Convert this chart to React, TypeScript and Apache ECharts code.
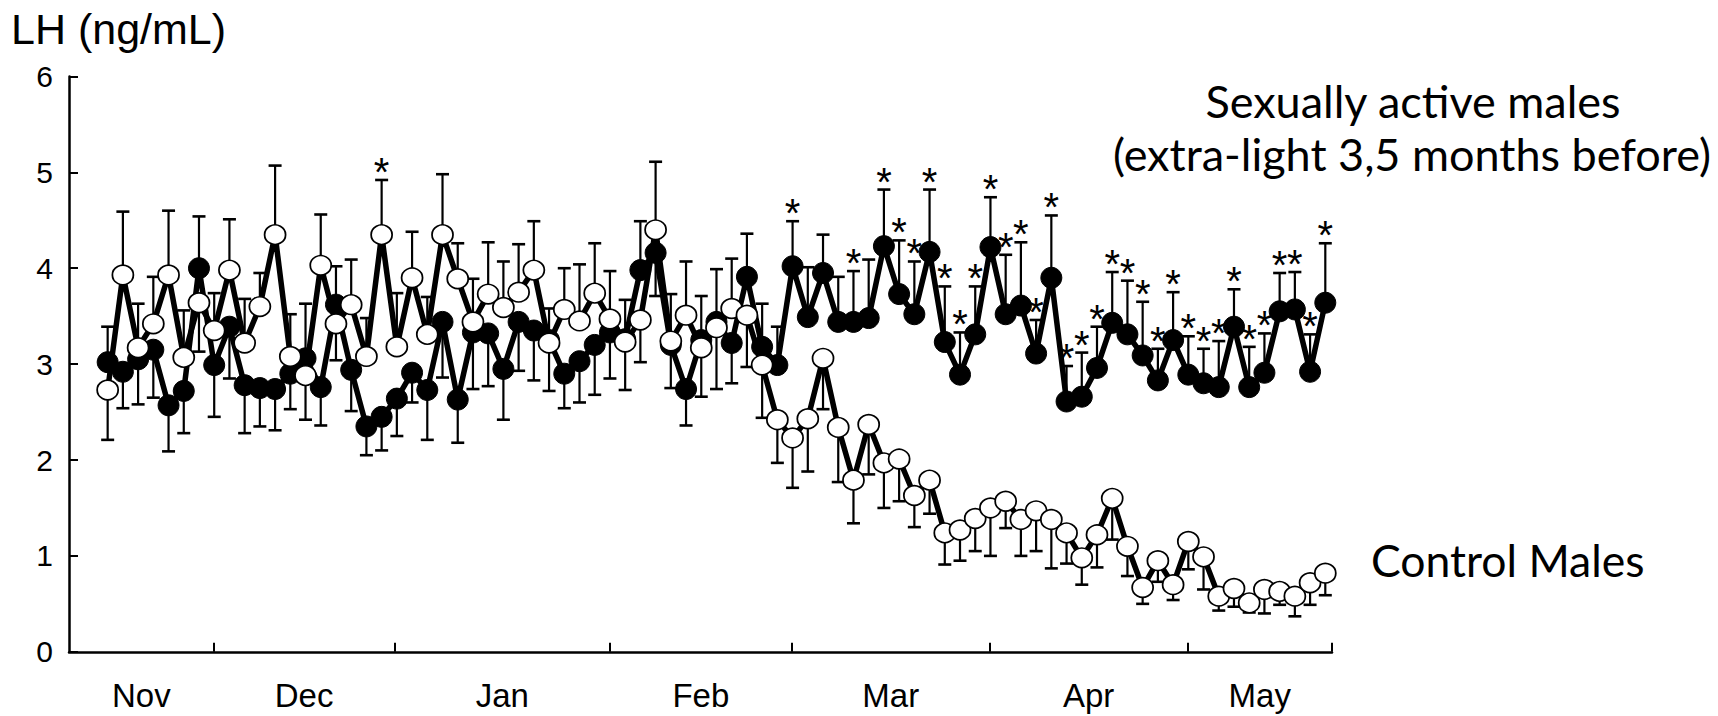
import React, { useEffect, useRef } from "react";
import * as echarts from "echarts";

// Sampling index (twice-weekly blood samples), 81 samples from early Nov to end of May
const months = ["Nov", "Dec", "Jan", "Feb", "Mar", "Apr", "May"];
// month boundaries, expressed in sample-index units
const monthBounds = [6.96, 18.85, 33.0, 44.95, 57.95, 70.95];
const axisStart = -2.54;
const axisEnd = 80.44;
const yTicks = [0, 1, 2, 3, 4, 5, 6];

// Sexually active males (filled circles)
const activeLH = [
  3.02, 2.92, 3.05, 3.15, 2.57, 2.72, 4.0, 2.99, 3.39, 2.78,
  2.75, 2.74, 2.9, 3.06, 2.76, 3.62, 2.94, 2.35, 2.45, 2.64,
  2.91, 2.73, 3.44, 2.63, 3.33, 3.32, 2.95, 3.44, 3.35, 3.25,
  2.9, 3.03, 3.2, 3.33, 3.26, 3.98, 4.16, 3.2, 2.74, 3.25,
  3.44, 3.22, 3.91, 3.18, 2.99, 4.02, 3.49, 3.95, 3.44, 3.44,
  3.48, 4.23, 3.73, 3.52, 4.17, 3.23, 2.89, 3.31, 4.22, 3.52,
  3.61, 3.11, 3.9, 2.61, 2.66, 2.96, 3.43, 3.31, 3.09, 2.83,
  3.25, 2.89, 2.8, 2.76, 3.39, 2.76, 2.91, 3.55, 3.57, 2.92,
  3.64,
];
const activeSEM = [
  0.37, 0.38, 0.47, 0.5, 0.48, 0.44, 0.54, 0.54, 0.54, 0.5,
  0.4, 0.43, 0.37, 0.57, 0.4, 0.4, 0.43, 0.3, 0.35, 0.39,
  0.31, 0.52, 0.58, 0.45, 0.59, 0.55, 0.53, 0.51, 0.52, 0.33,
  0.36, 0.43, 0.52, 0.48, 0.41, 0.51, 0.45, 0.45, 0.38, 0.46,
  0.55, 0.42, 0.45, 0.45, 0.4, 0.47, 0.52, 0.4, 0.47, 0.53,
  0.61, 0.59, 0.56, 0.55, 0.65, 0.58, 0.44, 0.5, 0.52, 0.62,
  0.66, 0.35, 0.65, 0.37, 0.46, 0.43, 0.53, 0.56, 0.56, 0.33,
  0.5, 0.4, 0.36, 0.48, 0.39, 0.42, 0.41, 0.4, 0.39, 0.39,
  0.62,
];
// Control males (open circles)
const controlLH = [
  2.73, 3.93, 3.17, 3.42, 3.93, 3.07, 3.64, 3.35, 3.98, 3.22,
  3.6, 4.35, 3.08, 2.88, 4.03, 3.42, 3.62, 3.08, 4.35, 3.18,
  3.9, 3.31, 4.35, 3.89, 3.44, 3.73, 3.59, 3.75, 3.98, 3.22,
  3.57, 3.45, 3.74, 3.47, 3.23, 3.46, 4.4, 3.24, 3.51, 3.17,
  3.38, 3.58, 3.51, 2.99, 2.42, 2.23, 2.43, 3.06, 2.34, 1.79,
  2.37, 1.97, 2.01, 1.63, 1.79, 1.24, 1.27, 1.39, 1.5, 1.57,
  1.38, 1.47, 1.38, 1.24, 0.98, 1.22, 1.6, 1.1, 0.67, 0.95,
  0.7, 1.15, 0.99, 0.58, 0.66, 0.51, 0.65, 0.63, 0.58, 0.72,
  0.82,
];
const controlSEM = [
  0.52, 0.66, 0.46, 0.49, 0.67, 0.49, 0.51, 0.39, 0.53, 0.46,
  0.35, 0.72, 0.44, 0.46, 0.53, 0.38, 0.47, 0.4, 0.57, 0.56,
  0.48, 0.39, 0.63, 0.37, 0.45, 0.54, 0.48, 0.5, 0.51, 0.5,
  0.43, 0.59, 0.52, 0.5, 0.5, 0.44, 0.71, 0.49, 0.56, 0.51,
  0.64, 0.52, 0.54, 0.55, 0.45, 0.52, 0.55, 0.53, 0.57, 0.45,
  0.52, 0.47, 0.44, 0.33, 0.35, 0.33, 0.32, 0.34, 0.5, 0.28,
  0.38, 0.42, 0.51, 0.32, 0.28, 0.34, 0.43, 0.31, 0.17, 0.22,
  0.16, 0.29, 0.34, 0.15, 0.19, 0.1, 0.25, 0.14, 0.21, 0.23,
  0.23,
];
// samples with a significant difference between groups (*)
const significant = [
  18, 45, 49, 51, 52, 53, 54, 55, 56, 57, 58, 59, 60, 61, 62, 63, 64, 65,
  66, 67, 68, 69, 70, 71, 72, 73, 74, 75, 76, 77, 78, 79, 80,
];

const FONT_AXIS = '"Liberation Sans", Arial, sans-serif';
const FONT_NOTE = 'Lato, "Open Sans", sans-serif';

export default function App() {
  const ref = useRef<HTMLDivElement>(null);

  useEffect(() => {
    if (!ref.current) return;
    const chart = echarts.init(ref.current, null, { renderer: "svg" });

    const activeData = activeLH.map((v, i) => [i, v]);
    const controlData = controlLH.map((v, i) => [i, v]);

    // error bars: the upper group of each sample gets an upward bar, the lower a downward one
    const errData: number[][] = [];
    activeLH.forEach((v, i) => {
      const up = v >= controlLH[i] ? 1 : -1;
      errData.push([i, v, activeSEM[i], up]);
      errData.push([i, controlLH[i], controlSEM[i], -up]);
    });
    const starData = significant.map((i) => {
      const top =
        activeLH[i] >= controlLH[i]
          ? activeLH[i] + activeSEM[i]
          : controlLH[i] + controlSEM[i];
      return [i, top];
    });

    const starts = [axisStart, ...monthBounds];
    const ends = [...monthBounds, axisEnd];
    const mids = starts.map((s, k) => (s + ends[k]) / 2);

    chart.setOption({
      animation: false,
      backgroundColor: "#ffffff",
      grid: {
        left: 69,
        top: 76.4,
        width: 1263,
        height: 575.4,
        containLabel: false,
        outerBoundsMode: "none",
      },
      xAxis: {
        type: "value",
        min: axisStart,
        max: axisEnd,
        splitLine: { show: false },
        axisLine: { show: true, onZero: false, lineStyle: { color: "#000", width: 2.5 } },
        axisTick: {
          show: true,
          inside: true,
          length: 9,
          customValues: [...monthBounds, axisEnd],
          lineStyle: { color: "#000", width: 2 },
        },
        axisLabel: {
          show: true,
          customValues: mids,
          margin: 27,
          color: "#000",
          fontSize: 33,
          fontFamily: FONT_AXIS,
          formatter: (val: number) => {
            let best = 0;
            let d = Infinity;
            mids.forEach((m, k) => {
              if (Math.abs(m - val) < d) {
                d = Math.abs(m - val);
                best = k;
              }
            });
            return months[best];
          },
        },
      },
      yAxis: {
        type: "value",
        min: yTicks[0],
        max: yTicks[yTicks.length - 1],
        interval: 1,
        splitLine: { show: false },
        axisLine: { show: true, onZero: false, lineStyle: { color: "#000", width: 2.5 } },
        axisTick: {
          show: true,
          inside: true,
          length: 9,
          lineStyle: { color: "#000", width: 2 },
        },
        axisLabel: {
          margin: 16,
          color: "#000",
          fontSize: 30,
          fontFamily: FONT_AXIS,
        },
      },
      series: [
        {
          type: "custom",
          z: 1,
          data: errData,
          renderItem: (params: any, api: any) => {
            const x = api.value(0);
            const v = api.value(1);
            const s = api.value(2);
            const d = api.value(3);
            const p0 = api.coord([x, v]);
            const p1 = api.coord([x, v + d * s]);
            const half = 6.5;
            return {
              type: "group",
              children: [
                {
                  type: "line",
                  shape: { x1: p0[0], y1: p0[1], x2: p1[0], y2: p1[1] },
                  style: { stroke: "#000", lineWidth: 2.2 },
                },
                {
                  type: "line",
                  shape: { x1: p1[0] - half, y1: p1[1], x2: p1[0] + half, y2: p1[1] },
                  style: { stroke: "#000", lineWidth: 2.6 },
                },
              ],
            };
          },
        },
        {
          type: "custom",
          z: 1,
          data: starData,
          renderItem: (params: any, api: any) => {
            const p = api.coord([api.value(0), api.value(1)]);
            return {
              type: "text",
              x: p[0],
              y: p[1] + 12,
              style: {
                text: "*",
                fill: "#000",
                fontSize: 40,
                fontFamily: FONT_AXIS,
                align: "center",
                verticalAlign: "bottom",
              },
            };
          },
        },
        {
          type: "line",
          name: "Sexually active males",
          z: 3,
          data: activeData,
          symbol: "circle",
          symbolSize: 21,
          showAllSymbol: true,
          lineStyle: { color: "#000", width: 5.5 },
          itemStyle: { color: "#000", borderColor: "#000", borderWidth: 1 },
        },
        {
          type: "line",
          name: "Control Males",
          z: 4,
          data: controlData,
          symbol: "circle",
          symbolSize: [21, 19.5],
          showAllSymbol: true,
          lineStyle: { color: "#000", width: 5.5 },
          itemStyle: { color: "#fff", borderColor: "#000", borderWidth: 1.7 },
        },
      ],
      graphic: [
        {
          type: "text",
          left: 11,
          top: 7,
          style: {
            text: "LH (ng/mL)",
            fill: "#000",
            fontSize: 43,
            fontFamily: FONT_AXIS,
          },
        },
        {
          type: "text",
          x: 1413,
          y: 101,
          style: {
            text: "Sexually active males",
            fill: "#000",
            fontSize: 45,
            fontFamily: FONT_NOTE,
            align: "center",
            verticalAlign: "middle",
          },
        },
        {
          type: "text",
          x: 1412,
          y: 154,
          style: {
            text: "(extra-light 3,5 months before)",
            fill: "#000",
            fontSize: 45,
            fontFamily: FONT_NOTE,
            align: "center",
            verticalAlign: "middle",
          },
        },
        {
          type: "text",
          x: 1371,
          y: 559,
          style: {
            text: "Control Males",
            fill: "#000",
            fontSize: 44.5,
            fontFamily: FONT_NOTE,
            align: "left",
            verticalAlign: "middle",
          },
        },
      ],
    });

    return () => chart.dispose();
  }, []);

  return (
    <div
      ref={ref}
      style={{
        position: "fixed",
        left: 0,
        top: 0,
        width: 1718,
        height: 716,
        background: "#fff",
      }}
    />
  );
}
